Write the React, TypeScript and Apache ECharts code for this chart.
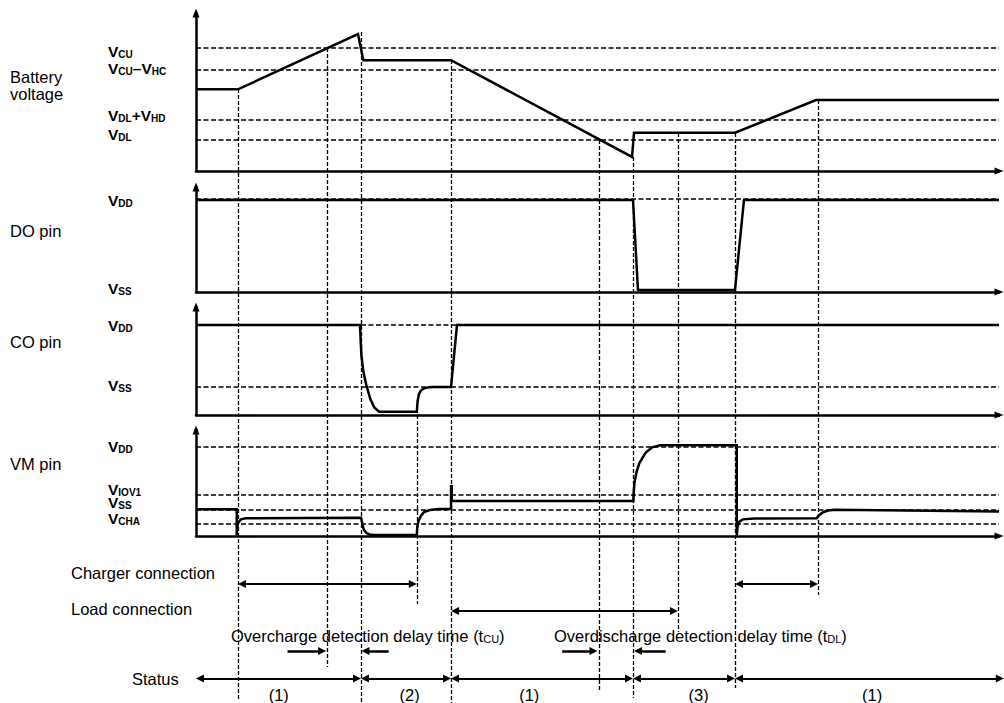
import React, { useEffect, useRef } from 'react';
import * as echarts from 'echarts';

const FONT = '"Liberation Sans", Arial, Helvetica, sans-serif';

// Time axis in arbitrary units (0..100), level axes in arbitrary units (0..100)
const TIME_MAX = 100;

// ---------- Battery voltage panel ----------
const batteryLevels = [77.8, 63.9, 32.7, 19.6]; // VCU, VCU-VHC, VDL+VHD, VDL
const batteryLabelPos = [75.4, 65.0, 35.4, 22.8];
const batteryLabels = ['{v|V}{s|CU}', '{v|V}{s|CU}{v|–V}{s|HC}', '{v|V}{s|DL}{v|+V}{s|HD}', '{v|V}{s|DL}'];
const batteryTrace = [
  [0, 51.7], [5.23, 51.7], [20.17, 86.7], [20.84, 70.1], [31.76, 70.1],
  [54.3, 8.9], [54.55, 24.2], [67.12, 24.2], [77.21, 44.9], [100, 44.9],
];

// ---------- DO pin panel ----------
const doLevels = [88.6]; // VDD
const doLabelPos = [87.6, 3.8];
const doLabels = ['{v|V}{s|DD}', '{v|V}{s|SS}'];
const doTrace = [
  [0, 87.6], [54.42, 87.6], [55.04, 1.9], [67.12, 1.9], [68.24, 87.6], [100, 87.6],
];

// ---------- CO pin panel ----------
const coLevels = [83.3, 25.9]; // VDD, VSS
const coLabelPos = [83.3, 26.9];
const coLabels = ['{v|V}{s|DD}', '{v|V}{s|SS}'];
const coTrace = [
  [0, 83.3], [20.42, 83.3], [20.5, 70], [20.6, 55], [20.85, 40], [21.2, 28], [21.7, 15],
  [22.2, 7], [22.8, 3], [27.5, 3], [27.6, 13], [27.75, 19], [28.0, 22.5], [28.4, 24.7],
  [29.0, 25.6], [29.5, 25.9], [31.76, 25.9], [32.5, 83.3], [100, 83.3],
];

// ---------- VM pin panel ----------
const vmLevels = [84.2, 38.7, 24.5, 11.3]; // VDD, VIOV1, VSS, VCHA
const vmLabelPos = [84.5, 44.0, 32.0, 16.7];
const vmLabels = ['{v|V}{s|DD}', '{v|V}{s|IOV1}', '{v|V}{s|SS}', '{v|V}{s|CHA}'];
const vmTrace = [
  [0, 25.2], [5.07, 25.2], [5.07, 0.8], [5.2, 12], [5.6, 15.7], [6.2, 16.7], [20.55, 17.3],
  [20.7, 12], [20.9, 6], [21.2, 3], [21.6, 1.5], [22.2, 1], [27.5, 1], [27.55, 8], [27.7, 14],
  [28.0, 19], [28.4, 22.5], [29.1, 24.5], [30.2, 25.5], [31.76, 25.5], [31.76, 47], [31.85, 47],
  [31.85, 33], [54.47, 33], [54.5, 40], [54.6, 50], [54.85, 60], [55.2, 68.6], [56.0, 78.6],
  [56.8, 83.6], [57.8, 85.5], [67.34, 85.5], [67.34, 0.8], [67.45, 9], [67.65, 13.5],
  [68.1, 15.7], [69.5, 16.5], [77.3, 16.7], [77.5, 19], [78.0, 22], [78.7, 24], [79.5, 24.8],
  [100, 23],
];

// ---------- annotation overlay (time, page row) ----------
const guideLines = [
  [5.23, 89, 700], [16.31, 48, 667], [20.55, 32, 703], [27.5, 415, 604], [31.76, 60, 703],
  [50.19, 140, 692], [54.42, 157, 698], [60.02, 133, 632], [67.12, 133, 688], [77.46, 100, 595],
];
const LANE_CHARGER = 584;
const LANE_LOAD = 611;
const LANE_DELAY = 651;
const LANE_STATUS = 678.5;
const LANE_STATUS_LABEL = 695;
const chargerSpans = [[5.23, 27.5], [67.12, 77.46]];
const loadSpans = [[31.76, 60.02]];
const statusSpans = [[0, 20.55], [20.55, 31.76], [31.76, 54.42], [54.42, 67.12], [67.12, 100.6]];
const delayArrows = [[11.4, 16.2], [24.0, 20.6], [45.6, 50.0], [58.5, 54.55]]; // [tail, tip]
const statusLabels = ['(1)', '(2)', '(1)', '(3)', '(1)'];
const statusLabelTimes = [10.3, 26.6, 41.5, 62.6, 84.2];

const panels = [
  { top: 13, height: 158 },
  { top: 187, height: 105 },
  { top: 307, height: 108 },
  { top: 430, height: 106 },
];
const ARROW = 8;
const INSET = (ARROW / 2) / 8.03;

const richV = {
  v: { fontSize: 15.5, fontWeight: 'bold', fontFamily: FONT, color: '#000', verticalAlign: 'bottom', lineHeight: 16 },
  s: { fontSize: 10, fontWeight: 'bold', fontFamily: FONT, color: '#000', verticalAlign: 'bottom', lineHeight: 16 },
};
const richT = {
  n: { fontSize: 16.5, fontFamily: FONT, color: '#000', verticalAlign: 'bottom', lineHeight: 20 },
  s: { fontSize: 11, fontFamily: FONT, color: '#000', verticalAlign: 'bottom', lineHeight: 20 },
};

function yAxisFor(gridIndex: number, labelPos: number[], labels: string[]) {
  return {
    type: 'value', gridIndex, min: 0, max: 100,
    axisLine: { show: true, onZero: false, symbol: ['none', 'triangle'], symbolSize: [7, 9], lineStyle: { color: '#000', width: 2.5 } },
    axisTick: { show: false },
    splitLine: { show: false },
    axisLabel: {
      show: true, customValues: labelPos, align: 'left', margin: 88, hideOverlap: false,
      showMinLabel: true, showMaxLabel: true,
      formatter: (v: number) => {
        const i = labelPos.findIndex((p) => Math.abs(p - v) < 1e-6);
        return i >= 0 ? labels[i] : '';
      },
      rich: richV,
    },
  };
}

function xAxisFor(gridIndex: number) {
  return {
    type: 'value', gridIndex, min: 0, max: TIME_MAX,
    axisLine: { show: true, onZero: false, symbol: ['none', 'triangle'], symbolSize: [7, 9], lineStyle: { color: '#000', width: 2.5 } },
    axisTick: { show: false }, axisLabel: { show: false }, splitLine: { show: false },
  };
}

function panelSeries(i: number, trace: number[][], levels: number[]) {
  return [
    {
      type: 'line', xAxisIndex: i, yAxisIndex: i, data: trace, z: 1, silent: true,
      showSymbol: false, symbol: 'none', lineStyle: { opacity: 0 },
      markLine: {
        silent: true, symbol: 'none', animation: false, label: { show: false },
        lineStyle: { color: '#000', width: 1.5, type: [5, 2.5] },
        data: levels.map((v) => ({ yAxis: v })),
      },
    },
    {
      type: 'line', xAxisIndex: i, yAxisIndex: i, data: trace, z: 3, silent: true,
      showSymbol: false, symbol: 'none',
      lineStyle: { color: '#000', width: 2.5, join: 'miter' },
    },
  ];
}

function spanArrows(spans: number[][], lane: number) {
  return spans.map(([a, b]) => ({ coords: [[a + INSET, lane], [b - INSET, lane]] }));
}

export default function App() {
  const ref = useRef<HTMLDivElement>(null);
  useEffect(() => {
    if (!ref.current) return;
    const chart = echarts.init(ref.current, undefined, { renderer: 'svg' });
    const grids = panels.map((p) => ({ left: 196, right: 5, top: p.top, height: p.height, containLabel: false, outerBoundsMode: 'none' }));
    grids.push({ left: 196, right: 5, top: 0, height: 703, containLabel: false, outerBoundsMode: 'none' } as any);

    const singleArrows = delayArrows.map(([tail, tip]) => ({
      coords: [[tail, LANE_DELAY], [tip + (tip > tail ? -INSET : INSET), LANE_DELAY]],
    }));

    const option: any = {
      animation: false,
      textStyle: { fontFamily: FONT },
      grid: grids,
      xAxis: [xAxisFor(0), xAxisFor(1), xAxisFor(2), xAxisFor(3),
        { type: 'value', gridIndex: 4, min: 0, max: TIME_MAX, show: false }],
      yAxis: [
        yAxisFor(0, batteryLabelPos, batteryLabels),
        yAxisFor(1, doLabelPos, doLabels),
        yAxisFor(2, coLabelPos, coLabels),
        yAxisFor(3, vmLabelPos, vmLabels),
        { type: 'value', gridIndex: 4, min: 0, max: 703, inverse: true, show: false },
      ],
      series: [
        ...panelSeries(0, batteryTrace, batteryLevels),
        ...panelSeries(1, doTrace, doLevels),
        ...panelSeries(2, coTrace, coLevels),
        ...panelSeries(3, vmTrace, vmLevels),
        {
          type: 'lines', coordinateSystem: 'cartesian2d', xAxisIndex: 4, yAxisIndex: 4,
          silent: true, clip: false, z: 2, symbol: 'none',
          lineStyle: { color: '#000', width: 1.3, type: [4, 2], opacity: 1 },
          data: guideLines.map(([t, y0, y1]) => ({ coords: [[t, y0], [t, y1]] })),
        },
        {
          type: 'lines', coordinateSystem: 'cartesian2d', xAxisIndex: 4, yAxisIndex: 4,
          silent: true, clip: false, z: 4, symbol: ['triangle', 'triangle'], symbolSize: ARROW,
          lineStyle: { color: '#000', width: 2, opacity: 1 },
          itemStyle: { color: '#000' },
          data: [
            ...spanArrows(chargerSpans, LANE_CHARGER),
            ...spanArrows(loadSpans, LANE_LOAD),
            ...spanArrows(statusSpans, LANE_STATUS),
          ],
        },
        {
          type: 'lines', coordinateSystem: 'cartesian2d', xAxisIndex: 4, yAxisIndex: 4,
          silent: true, clip: false, z: 4, symbol: ['none', 'triangle'], symbolSize: ARROW,
          lineStyle: { color: '#000', width: 2.5, opacity: 1 },
          itemStyle: { color: '#000' },
          data: singleArrows,
        },
        {
          type: 'scatter', xAxisIndex: 4, yAxisIndex: 4, silent: true, clip: false,
          symbolSize: 1, itemStyle: { color: '#fff', opacity: 1 },
          data: statusLabels.map((s, i) => ({ value: [statusLabelTimes[i], LANE_STATUS_LABEL], name: s })),
          label: {
            show: true, position: 'inside', formatter: '{b}', color: '#000', opacity: 1,
            fontSize: 16.5, fontFamily: FONT, textBorderWidth: 0, textBorderColor: 'transparent',
          },
        },
      ],
      graphic: [
        { type: 'text', x: 10, y: 77, style: { text: 'Battery', fontSize: 16.5, fontFamily: FONT, fill: '#000', align: 'left', verticalAlign: 'middle' } },
        { type: 'text', x: 10, y: 94, style: { text: 'voltage', fontSize: 16.5, fontFamily: FONT, fill: '#000', align: 'left', verticalAlign: 'middle' } },
        { type: 'text', x: 10, y: 230.5, style: { text: 'DO pin', fontSize: 16.5, fontFamily: FONT, fill: '#000', align: 'left', verticalAlign: 'middle' } },
        { type: 'text', x: 10, y: 342, style: { text: 'CO pin', fontSize: 16.5, fontFamily: FONT, fill: '#000', align: 'left', verticalAlign: 'middle' } },
        { type: 'text', x: 10, y: 464, style: { text: 'VM pin', fontSize: 16.5, fontFamily: FONT, fill: '#000', align: 'left', verticalAlign: 'middle' } },
        { type: 'text', x: 71, y: 573, style: { text: 'Charger connection', fontSize: 16.5, fontFamily: FONT, fill: '#000', align: 'left', verticalAlign: 'middle' } },
        { type: 'text', x: 71, y: 609, style: { text: 'Load connection', fontSize: 16.5, fontFamily: FONT, fill: '#000', align: 'left', verticalAlign: 'middle' } },
        { type: 'text', x: 231, y: 634, style: { text: '{n|Overcharge detection delay time (t}{s|CU}{n|)}', rich: richT, align: 'left', verticalAlign: 'middle' } },
        { type: 'text', x: 554, y: 634, style: { text: '{n|Overdischarge detection delay time (t}{s|DL}{n|)}', rich: richT, align: 'left', verticalAlign: 'middle' } },
        { type: 'text', x: 132, y: 679, style: { text: 'Status', fontSize: 16.5, fontFamily: FONT, fill: '#000', align: 'left', verticalAlign: 'middle' } },
      ],
    };
    chart.setOption(option);
    return () => chart.dispose();
  }, []);
  return <div ref={ref} style={{ position: 'absolute', left: 0, top: 0, width: 1004, height: 703, background: '#fff' }} />;
}
